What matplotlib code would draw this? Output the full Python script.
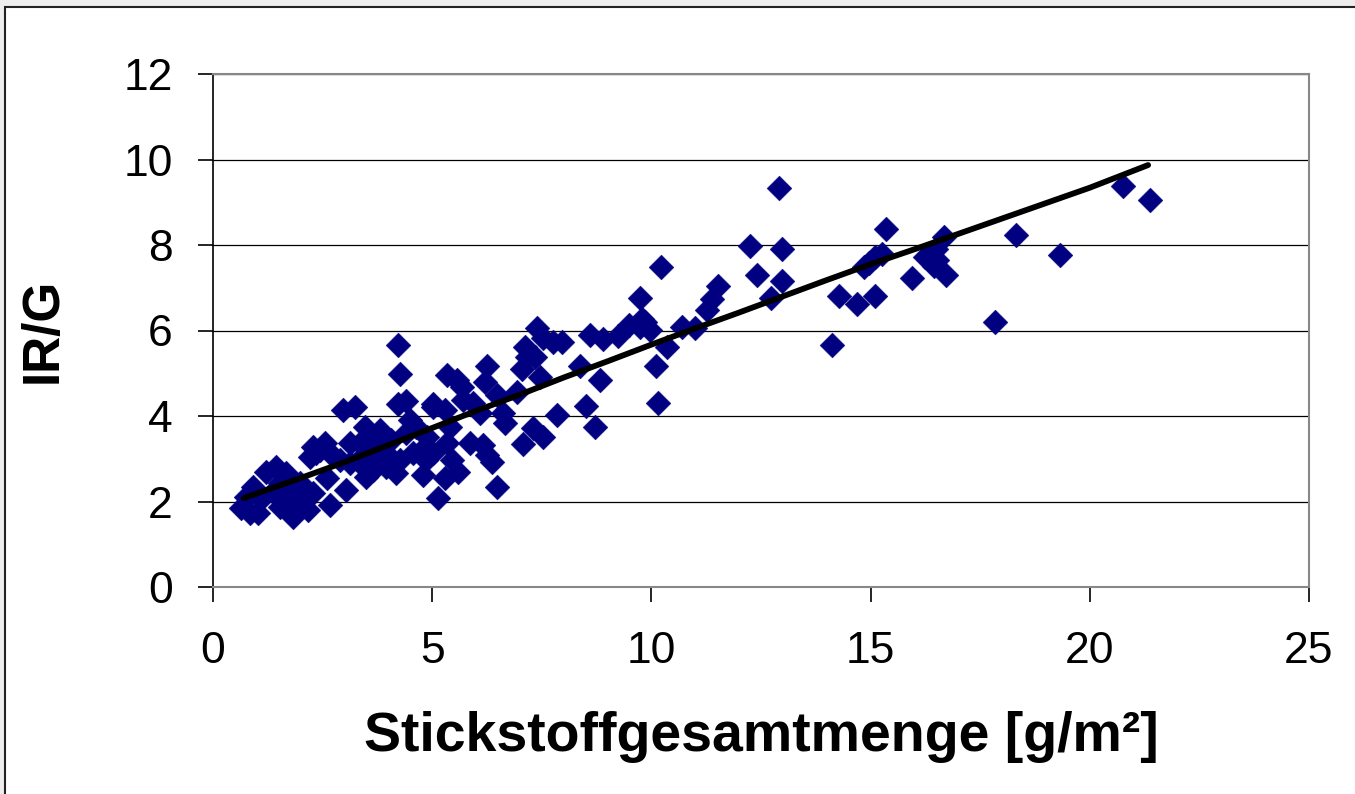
import matplotlib.pyplot as plt
from matplotlib.patches import Rectangle

# measured points: Stickstoffgesamtmenge [g/m2] vs IR/G
n_total = [
    20.76, 21.38, 19.33, 18.32, 17.84, 15.36, 15.27, 14.97, 14.86, 15.09,
    15.95, 14.29, 14.70, 15.11, 14.13, 16.68, 16.34, 16.50, 16.45, 16.73,
    16.52, 16.23,
    12.92, 12.26, 12.99, 12.40, 12.99, 12.72, 10.21, 11.53, 11.39, 11.26,
    10.69, 11.00, 10.35, 10.10, 10.15, 9.73, 9.85, 9.96, 9.73,
    7.38, 8.59, 8.89, 9.23, 9.50, 9.78, 7.52, 7.75, 7.95, 7.11,
    7.16, 7.34, 7.04, 7.45, 8.36, 8.82, 8.50, 8.71, 7.84, 7.30,
    7.52, 7.06, 6.47, 6.24, 6.20, 5.33, 5.56, 5.67, 5.01, 5.29,
    5.70, 5.93, 6.47, 6.93, 6.61, 6.08, 6.65, 5.86, 6.15, 6.24,
    6.36, 5.45, 5.58, 5.29, 5.13, 4.79, 5.40, 5.33, 4.88, 4.83,
    5.01,
    4.22, 4.26, 2.96, 3.24, 4.22, 4.40, 5.01, 4.49, 4.63, 3.81,
    3.58, 3.35, 2.28, 2.55, 2.35, 2.67, 2.21, 1.21, 1.44, 1.66,
    0.91, 0.75, 0.84, 0.64, 1.03, 1.53, 1.89, 2.16, 1.82, 2.67,
    3.03, 2.28, 1.82, 1.37, 1.53, 1.98, 1.75, 3.94, 3.65, 3.49,
    3.12, 2.89, 4.17, 4.26, 4.56, 4.85, 3.94, 3.42, 3.71, 3.12,
    3.46, 2.05, 2.45, 3.30, 3.80, 4.05, 1.10, 2.60, 3.55, 4.40,
]
ir_g = [
    9.37, 9.05, 7.76, 8.23, 6.21, 8.37, 7.78, 7.59, 7.48, 7.73,
    7.22, 6.80, 6.61, 6.80, 5.67, 8.18, 7.78, 7.90, 7.50, 7.29,
    7.66, 7.73,
    9.33, 7.97, 7.90, 7.29, 7.15, 6.75, 7.48, 7.03, 6.73, 6.49,
    6.09, 6.07, 5.62, 5.18, 4.31, 6.75, 6.21, 6.02, 6.09,
    6.07, 5.90, 5.79, 5.86, 6.14, 6.26, 5.83, 5.74, 5.74, 5.62,
    5.39, 5.37, 5.09, 4.92, 5.16, 4.85, 4.24, 3.75, 4.03, 3.72,
    3.52, 3.35, 2.34, 5.16, 4.80, 4.97, 4.85, 4.69, 4.22, 4.15,
    4.38, 4.31, 4.50, 4.55, 4.08, 4.08, 3.84, 3.37, 3.33, 3.09,
    2.93, 2.98, 2.70, 2.55, 2.09, 2.62, 3.75, 3.37, 3.52, 3.28,
    3.14,
    5.67, 4.99, 4.15, 4.20, 4.27, 4.34, 4.27, 3.91, 3.75, 3.68,
    3.56, 3.37, 3.28, 3.37, 3.14, 3.14, 3.05, 2.70, 2.81, 2.67,
    2.34, 2.11, 1.73, 1.85, 1.73, 1.87, 1.87, 1.80, 1.64, 1.92,
    2.27, 2.20, 2.23, 2.23, 2.44, 2.44, 2.11, 2.81, 2.74, 2.58,
    2.90, 2.98, 2.67, 2.98, 3.14, 2.98, 3.14, 3.05, 3.28, 3.37,
    3.75, 2.00, 3.20, 2.95, 3.00, 3.45, 2.05, 2.55, 2.80, 3.60,
]

# trend line
trend_x = [0.7, 2.0, 3.0, 4.0, 5.0, 6.0, 7.0, 8.0, 9.0, 10.0,
           11.0, 12.0, 13.0, 14.0, 15.0, 16.0, 17.0, 18.0, 19.0, 20.0, 21.33]
trend_y = [2.08, 2.55, 2.92, 3.32, 3.72, 4.12, 4.50, 4.90, 5.28, 5.67,
           6.05, 6.42, 6.80, 7.18, 7.55, 7.90, 8.26, 8.62, 8.98, 9.34, 9.87]

fig = plt.figure(figsize=(13.55, 7.94), dpi=100, facecolor='#ededed')
frame = Rectangle((5 / 1355, -0.05), 1.1, 1 - 7 / 794 + 0.05,
                  transform=fig.transFigure, facecolor='white',
                  edgecolor='#222222', linewidth=1.5, zorder=-10)
fig.patches.append(frame)

ax = fig.add_axes([213 / 1355, 1 - 587 / 794, (1309 - 213) / 1355, (587 - 74) / 794])
ax.set_facecolor('white')
ax.scatter(n_total, ir_g, marker='D', s=160, color='#000080',
           edgecolors='#000080', linewidths=0.3, zorder=3)
ax.plot(trend_x, trend_y, color='black', linewidth=4.2, zorder=4,
        solid_capstyle='round')

ax.set_xlim(0, 25)
ax.set_ylim(0, 12)
ax.set_xticks(range(0, 26, 5))
ax.set_yticks(range(0, 13, 2))
ax.yaxis.grid(True, color='black', linewidth=0.9)
ax.set_axisbelow(True)

for side in ['top', 'right', 'bottom']:
    ax.spines[side].set_color('#888888')
    ax.spines[side].set_linewidth(1.5)
ax.spines['left'].set_color('black')
ax.spines['left'].set_linewidth(1.2)

ax.tick_params(axis='both', direction='out', length=11, width=1.2, color='black',
               labelsize=32)
ax.tick_params(axis='x', pad=21)
ax.tick_params(axis='y', pad=18)
for lab in ax.get_xticklabels() + ax.get_yticklabels():
    lab.set_family('Liberation Sans')

ax.set_xlabel('Stickstoffgesamtmenge [g/m²]', family='Liberation Sans',
              fontsize=40, fontweight='bold', labelpad=28)
ax.set_ylabel('IR/G', family='Liberation Sans', fontsize=37,
              fontweight='bold', labelpad=40)

plt.savefig('out.png', dpi=100, facecolor=fig.get_facecolor())
